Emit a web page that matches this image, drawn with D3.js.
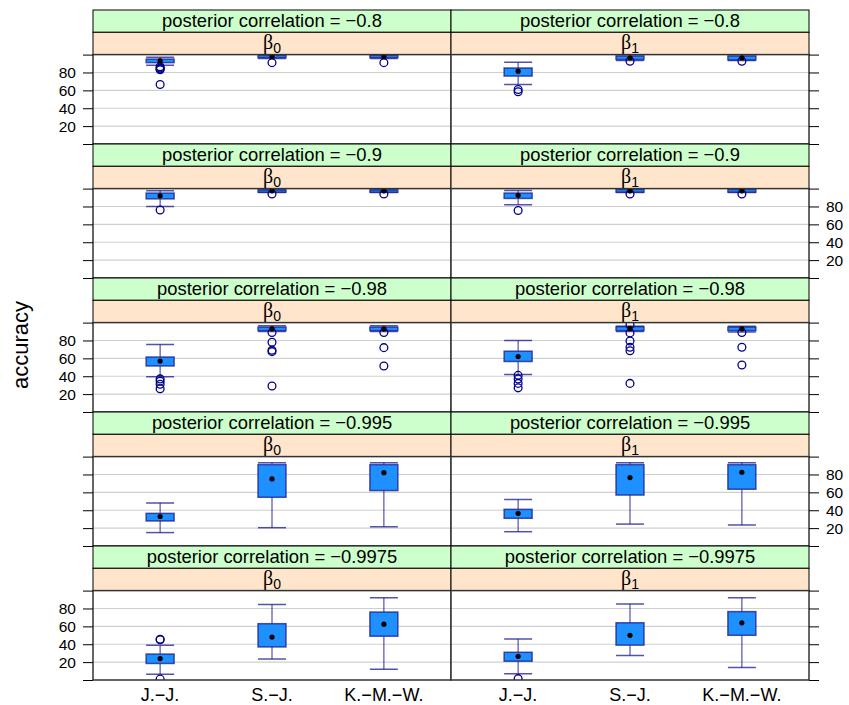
<!DOCTYPE html>
<html>
<head>
<meta charset="utf-8">
<script src="https://cdn.jsdelivr.net/npm/d3@7"></script>
<style>
  html, body { margin: 0; padding: 0; background: #fff; }
  svg { display: block; font-family: "Liberation Sans", Arial, Helvetica, sans-serif; }
</style>
</head>
<body>
<svg id="chart" width="849" height="705"></svg>
<script>
// Methods on the x axis
const categories = ["J.−J.", "S.−J.", "K.−M.−W."];
// Posterior correlation for each row of panels
const correlations = ["−0.8", "−0.9", "−0.98", "−0.995", "−0.9975"];
// Parameter subscripts for the two columns (β0, β1)
const parameters = ["0", "1"];
// Y axis ticks and their labels
const yTicks = [0, 20, 40, 60, 80, 100];
const yTickLabels = ["", "20", "40", "60", "80", ""];

// Box statistics per correlation row and method: [lower whisker, Q1, median, Q3, upper whisker]
const statsBeta0 = [
  [[88, 91, 93, 95, 97], [95.5, 96.5, 98, 99, 100], [95.5, 96.5, 98, 99, 100]],
  [[80, 88.5, 92, 95, 97.5], [95.5, 96, 97.5, 98.5, 99.5], [95.5, 96, 97.5, 98.5, 99.5]],
  [[39.5, 51.5, 57, 61.5, 75.5], [90, 91, 93, 95, 96.5], [90, 91, 93, 95, 96.5]],
  [[15, 28, 33, 36.5, 48], [20.5, 54.5, 75, 91, 93], [21.5, 62, 82, 91, 93]],
  [[6.5, 18.5, 24, 29, 39], [23.5, 37, 48, 63, 84.5], [12, 49, 62.5, 76, 92]]
];
const outliersBeta0 = [
  [[86.5, 85, 84, 83, 66.5], [91], [91]],
  [[76], [94], [94]],
  [[37, 34.5, 31, 26], [89, 78, 69, 67.5, 29], [89, 72, 51.5]],
  [[], [], []],
  [[45.5, 45, 1], [], []]
];
const statsBeta1 = [
  [[66.5, 76, 81.5, 85, 91.5], [93.5, 94.5, 96.5, 98.5, 100], [93.5, 94, 96.5, 98.5, 100]],
  [[82, 89, 92.5, 95, 98], [95.5, 96, 97.5, 99, 100], [95.5, 96, 97.5, 99, 100]],
  [[42, 56.5, 62, 68, 80], [90, 91, 93.5, 95.5, 96], [89.5, 91, 93, 95, 96]],
  [[16, 31, 36.5, 41, 52], [24.5, 57, 76.5, 91, 93], [23.5, 63.5, 82.5, 91, 93]],
  [[7, 21, 26.5, 31, 46], [27.5, 39, 50, 64, 85], [14, 50, 64, 76.5, 92]]
];
const outliersBeta1 = [
  [[61, 58.5], [92.5], [92.5]],
  [[75.5], [94], [94]],
  [[41, 37, 32, 27], [97.5, 88.5, 79.5, 72.5, 68.5, 32], [89, 72.5, 52.5]],
  [[], [], []],
  [[1.5], [], []]
];

const stats = [statsBeta0, statsBeta1];
const outliers = [outliersBeta0, outliersBeta1];

// Layout
const svg = d3.select("#chart");
const colX = [93, 451];
const panelW = 358;
const top0 = 10;
const rowH = 134;
const stripH = 22.3;
const panelH = rowH - 2 * stripH;

const stripGreen = "#ccffcc";
const stripOrange = "#ffe5cc";
const boxFill = "#1e90ff";
const boxLine = "#1a1a8c";
const pointCol = "#00008b";

// Factor positions like a lattice panel: levels at 1..3, range [0.4, 3.6]
const x = d3.scaleLinear().domain([0.4, 3.6]).range([0, panelW]);
const boxHalf = x(1.125) - x(1);

const defs = svg.append("defs");

correlations.forEach((corr, r) => {
  const rowTop = top0 + r * rowH;
  const pTop = rowTop + 2 * stripH;
  const y = d3.scaleLinear().domain([0, 100]).range([pTop + panelH, pTop]);

  parameters.forEach((par, c) => {
    const x0 = colX[c];
    const g = svg.append("g");

    // strips
    g.append("rect").attr("x", x0).attr("y", rowTop).attr("width", panelW).attr("height", stripH)
      .attr("fill", stripGreen).attr("stroke", "#000").attr("stroke-width", 1);
    g.append("text").attr("x", x0 + panelW / 2).attr("y", rowTop + stripH / 2 + 6.2)
      .attr("text-anchor", "middle").attr("font-size", 18.4).attr("fill", "#000")
      .text("posterior correlation = " + corr);

    g.append("rect").attr("x", x0).attr("y", rowTop + stripH).attr("width", panelW).attr("height", stripH)
      .attr("fill", stripOrange).attr("stroke", "#000").attr("stroke-width", 1);
    const bt = g.append("text").attr("x", x0 + panelW / 2).attr("y", rowTop + stripH + stripH / 2 + 5.5)
      .attr("text-anchor", "middle").attr("fill", "#000");
    bt.append("tspan").attr("font-family", "'Liberation Serif', 'DejaVu Serif', serif").attr("font-size", 20).text("β");
    bt.append("tspan").attr("font-size", 14).attr("dy", 4).text(par);

    // panel
    const clipId = "clip-" + r + "-" + c;
    defs.append("clipPath").attr("id", clipId).append("rect")
      .attr("x", x0).attr("y", pTop).attr("width", panelW).attr("height", panelH);

    g.append("rect").attr("x", x0).attr("y", pTop).attr("width", panelW).attr("height", panelH)
      .attr("fill", "#fff");

    // reference grid
    g.selectAll(".grid").data([20, 40, 60, 80]).join("line")
      .attr("x1", x0).attr("x2", x0 + panelW)
      .attr("y1", d => y(d)).attr("y2", d => y(d))
      .attr("stroke", "#cfcfcf").attr("stroke-width", 1.2);

    const pg = g.append("g").attr("clip-path", `url(#${clipId})`);

    stats[c][r].forEach((s, i) => {
      const cx = x0 + x(i + 1);
      const [lo, q1, med, q3, hi] = s;
      // whiskers
      pg.append("line").attr("x1", cx).attr("x2", cx).attr("y1", y(q3)).attr("y2", y(hi))
        .attr("stroke", boxLine).attr("stroke-opacity", 0.75).attr("stroke-width", 1.2);
      pg.append("line").attr("x1", cx).attr("x2", cx).attr("y1", y(q1)).attr("y2", y(lo))
        .attr("stroke", boxLine).attr("stroke-opacity", 0.75).attr("stroke-width", 1.2);
      pg.append("line").attr("x1", cx - boxHalf).attr("x2", cx + boxHalf).attr("y1", y(hi)).attr("y2", y(hi))
        .attr("stroke", boxLine).attr("stroke-opacity", 0.75).attr("stroke-width", 1.5);
      pg.append("line").attr("x1", cx - boxHalf).attr("x2", cx + boxHalf).attr("y1", y(lo)).attr("y2", y(lo))
        .attr("stroke", boxLine).attr("stroke-opacity", 0.75).attr("stroke-width", 1.5);
      // box
      pg.append("rect").attr("x", cx - boxHalf).attr("y", y(q3))
        .attr("width", 2 * boxHalf).attr("height", Math.max(0.5, y(q1) - y(q3)))
        .attr("fill", boxFill).attr("stroke", boxLine).attr("stroke-opacity", 0.75).attr("stroke-width", 1.5);
      // outliers
      pg.selectAll(null).data(outliers[c][r][i]).join("circle")
        .attr("cx", cx).attr("cy", d => y(d)).attr("r", 3.9)
        .attr("fill", "none").attr("stroke", pointCol).attr("stroke-width", 1.3);
      // median
      pg.append("circle").attr("cx", cx).attr("cy", y(med)).attr("r", 2.6).attr("fill", "#000");
    });

    g.append("rect").attr("x", x0).attr("y", pTop).attr("width", panelW).attr("height", panelH)
      .attr("fill", "none").attr("stroke", "#333").attr("stroke-width", 1.5);

    // y axis ticks on outer sides, labels alternating left/right
    const side = c === 0 ? "left" : "right";
    const tickX = c === 0 ? x0 : x0 + panelW;
    const labelled = (c === 0 && r % 2 === 0) || (c === 1 && r % 2 === 1);
    const axis = (side === "left" ? d3.axisLeft(y) : d3.axisRight(y))
      .tickValues(yTicks).tickSize(10).tickPadding(7)
      .tickFormat((d, i) => labelled ? yTickLabels[i] : "");
    const ax = g.append("g").attr("transform", `translate(${tickX},0)`).call(axis);
    ax.select(".domain").remove();
    ax.selectAll(".tick line").attr("stroke", "#000").attr("stroke-width", 1);
    ax.selectAll(".tick text").attr("font-size", 15.5).attr("fill", "#000")
      .attr("font-family", "'Liberation Sans', Arial, sans-serif");

    // x axis labels on bottom row
    if (r === correlations.length - 1) {
      g.selectAll(".xl").data(categories).join("text")
        .attr("x", (d, i) => x0 + x(i + 1)).attr("y", pTop + panelH + 21)
        .attr("text-anchor", "middle").attr("font-size", 18).attr("fill", "#000")
        .text(d => d);
    }
  });
});

// y axis title
svg.append("text")
  .attr("transform", `translate(28, ${top0 + 5 * rowH / 2}) rotate(-90)`)
  .attr("text-anchor", "middle").attr("font-size", 22).attr("fill", "#000")
  .text("accuracy");
</script>
</body>
</html>
